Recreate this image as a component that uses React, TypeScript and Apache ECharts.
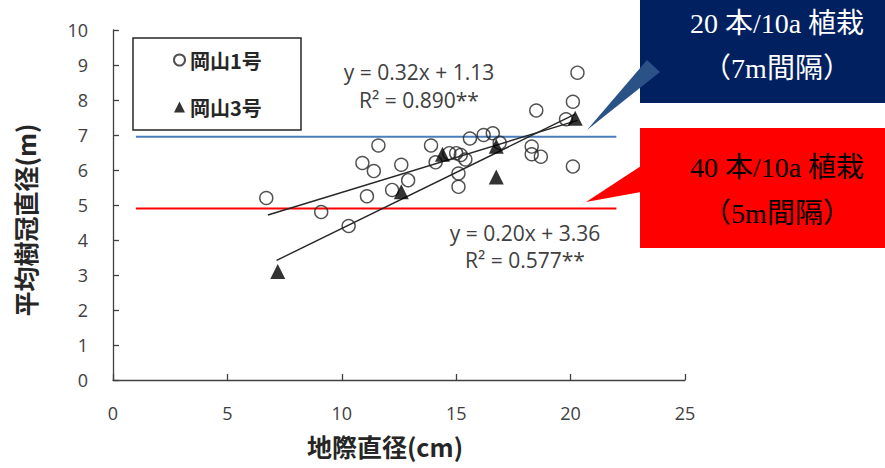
import React, { useEffect, useRef } from "react";
import * as echarts from "echarts";

// 岡山1号 (circles)
const circleX = [6.7, 9.1, 10.3, 10.9, 11.1, 11.6, 11.4, 12.2, 12.6, 12.9, 13.9, 14.1, 14.7, 15.0, 15.2, 15.4, 15.1, 15.1, 15.6, 16.2, 16.6, 16.9, 18.3, 18.3, 18.7, 18.5, 19.8, 20.1, 20.3, 20.1];
const circleY = [5.2, 4.8, 4.4, 6.2, 5.25, 6.7, 5.97, 5.43, 6.15, 5.71, 6.7, 6.22, 6.48, 6.48, 6.43, 6.3, 5.9, 5.52, 6.9, 7.0, 7.05, 6.78, 6.67, 6.45, 6.38, 7.7, 7.45, 7.95, 8.78, 6.1];
// 岡山3号 (triangles)
const triX = [7.2, 12.6, 14.4, 16.75, 16.75, 20.2];
const triY = [3.1, 5.38, 6.45, 6.68, 5.8, 7.48];

// trend lines: [岡山1号, 岡山3号]
const trendSlope = [0.2, 0.32];
const trendIntercept = [3.36, 1.13];
const trendXStart = [6.77, 7.15];
const trendXEnd = [20.3, 20.2];

// reference lines: 20本/10a (blue), 40本/10a (red)
const refY = [6.95, 4.9];
const refXStart = 1;
const refXEnd = 22;

const seriesNames = ["岡山1号", "岡山3号"];
const eqLines = [
  ["y = 0.20x + 3.36", "R² = 0.577**"],
  ["y = 0.32x + 1.13", "R² = 0.890**"],
];
const calloutTexts = [
  ["20 本/10a 植栽", "（7m間隔）"],
  ["40 本/10a 植栽", "（5m間隔）"],
];

const xMin = 0, xMax = 25, xInterval = 5;
const yMin = 0, yMax = 10, yInterval = 1;

const SANS = '"Open Sans", "Noto Sans", sans-serif';
const CJK = '"Noto Sans CJK JP", sans-serif';
const SERIF = '"Liberation Serif", "Noto Sans CJK JP", serif';

export default function App() {
  const ref = useRef<HTMLDivElement>(null);
  useEffect(() => {
    if (!ref.current) return;
    const chart = echarts.init(ref.current, undefined, { renderer: "svg" });

    const circleData = circleX.map((x, i) => [x, circleY[i]]);
    const triData = triX.map((x, i) => [x, triY[i]]);
    const trendData = trendSlope.map((s, i) => [
      [trendXStart[i], s * trendXStart[i] + trendIntercept[i]],
      [trendXEnd[i], s * trendXEnd[i] + trendIntercept[i]],
    ]);
    const refColors = ["#4A7EBB", "#FF0000"];

    const option: any = {
      animation: false,
      backgroundColor: "#ffffff",
      grid: { left: 113, right: 200, top: 30, bottom: 88, containLabel: false },
      legend: {
        orient: "vertical",
        left: 168,
        top: 45,
        itemGap: 27,
        itemWidth: 11,
        itemHeight: 11,
        data: [
          { name: seriesNames[0], icon: "circle" },
          { name: seriesNames[1], icon: "triangle" },
        ],
        textStyle: { fontSize: 20, fontWeight: "bold", fontFamily: CJK, color: "#262626" },
      },
      xAxis: {
        type: "value",
        min: xMin,
        max: xMax,
        interval: xInterval,
        name: "地際直径(cm)",
        nameLocation: "middle",
        nameGap: 53,
        nameTextStyle: { fontSize: 25, fontWeight: "bold", fontFamily: CJK, color: "#262626", padding: [0, 28, 0, 0] },
        axisLine: { show: true, lineStyle: { color: "#404040", width: 1.3 } },
        axisTick: { show: true, inside: true, length: 6, lineStyle: { color: "#404040", width: 1.3 } },
        axisLabel: { fontSize: 18, fontFamily: SANS, color: "#404040", margin: 24 },
        splitLine: { show: false },
      },
      yAxis: {
        type: "value",
        min: yMin,
        max: yMax,
        interval: yInterval,
        name: "平均樹冠直径(m)",
        nameLocation: "middle",
        nameRotate: 90,
        nameGap: 76,
        nameTextStyle: { fontSize: 25, fontWeight: "bold", fontFamily: CJK, color: "#262626", padding: [0, 30, 0, 0] },
        axisLine: { show: true, lineStyle: { color: "#404040", width: 1.3 } },
        axisTick: { show: true, inside: true, length: 6, lineStyle: { color: "#404040", width: 1.3 } },
        axisLabel: { fontSize: 18, fontFamily: SANS, color: "#404040", margin: 25 },
        splitLine: { show: false },
      },
      series: [
        ...refY.map((y, i) => ({
          type: "line",
          name: "ref" + i,
          data: [[refXStart, y], [refXEnd, y]],
          symbol: "none",
          lineStyle: { color: refColors[i], width: 2 },
          silent: true,
          z: 1,
        })),
        ...trendData.map((d, i) => ({
          type: "line",
          name: "trend" + i,
          data: d,
          symbol: "none",
          lineStyle: { color: "#262626", width: 1.4 },
          silent: true,
          z: 2,
        })),
        {
          type: "scatter",
          name: seriesNames[0],
          data: circleData,
          symbol: "circle",
          symbolSize: 13,
          itemStyle: { color: "rgba(255,255,255,0)", borderColor: "#262626", borderWidth: 1.4 },
          z: 3,
        },
        {
          type: "scatter",
          name: seriesNames[1],
          data: triData,
          symbol: "triangle",
          symbolSize: 15,
          itemStyle: { color: "#000000" },
          z: 4,
        },
      ],
      graphic: [
        { type: "rect", shape: { x: 133, y: 38, width: 168, height: 92 }, style: { fill: "none", stroke: "#262626", lineWidth: 1.5 }, z: 10 },
        // equations
        { type: "text", x: 525, y: 233, style: { text: eqLines[0][0], fontSize: 21, fontFamily: SANS, fill: "#404040", align: "center", verticalAlign: "middle" }, z: 10 },
        { type: "text", x: 525, y: 260, style: { text: eqLines[0][1], fontSize: 21, fontFamily: SANS, fill: "#404040", align: "center", verticalAlign: "middle" }, z: 10 },
        { type: "text", x: 419, y: 72, style: { text: eqLines[1][0], fontSize: 21, fontFamily: SANS, fill: "#404040", align: "center", verticalAlign: "middle" }, z: 10 },
        { type: "text", x: 419, y: 100, style: { text: eqLines[1][1], fontSize: 21, fontFamily: SANS, fill: "#404040", align: "center", verticalAlign: "middle" }, z: 10 },
        // blue callout
        { type: "rect", shape: { x: 640, y: 0, width: 245, height: 103 }, style: { fill: "#002060" }, z: 10 },
        { type: "polygon", shape: { points: [[587, 130], [647, 60], [660, 72]] }, style: { fill: "#2A5286" }, z: 11 },
        { type: "text", x: 777, y: 23, style: { text: calloutTexts[0][0], fontSize: 28, fontFamily: SERIF, fill: "#ffffff", align: "center", verticalAlign: "middle" }, z: 12 },
        { type: "text", x: 777, y: 68, style: { text: calloutTexts[0][1], fontSize: 28, fontFamily: SERIF, fill: "#ffffff", align: "center", verticalAlign: "middle" }, z: 12 },
        // red callout
        { type: "rect", shape: { x: 640, y: 128, width: 245, height: 120 }, style: { fill: "#FF0000" }, z: 10 },
        { type: "polygon", shape: { points: [[586, 202], [641, 166], [641, 192]] }, style: { fill: "#FF0000" }, z: 11 },
        { type: "text", x: 777, y: 167, style: { text: calloutTexts[1][0], fontSize: 28, fontFamily: SERIF, fill: "#000000", align: "center", verticalAlign: "middle" }, z: 12 },
        { type: "text", x: 777, y: 213, style: { text: calloutTexts[1][1], fontSize: 28, fontFamily: SERIF, fill: "#000000", align: "center", verticalAlign: "middle" }, z: 12 },
      ],
    };
    chart.setOption(option);
    return () => chart.dispose();
  }, []);
  return <div ref={ref} style={{ position: "fixed", left: 0, top: 0, width: 885, height: 468 }} />;
}
